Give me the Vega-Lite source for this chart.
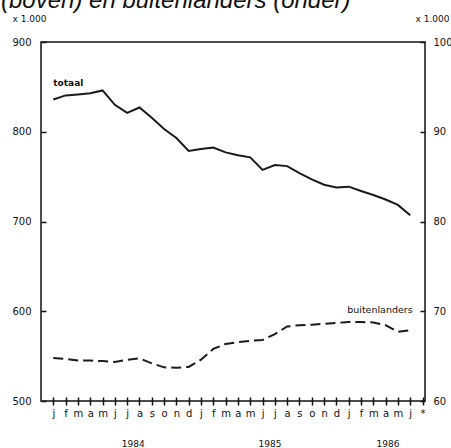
{
  "$schema": "https://vega.github.io/schema/vega-lite/v6.json",
  "width": 384,
  "height": 359,
  "autosize": {"type": "none"},
  "padding": {"left": 41, "top": 42, "right": 26, "bottom": 47},
  "background": "white",
  "config": {
    "view": {"stroke": "#111", "strokeWidth": 1.5},
    "font": "DejaVu Sans",
    "axis": {
      "grid": false, "domain": false, "tickColor": "#111", "tickWidth": 1.5,
      "labelColor": "#111", "labelFont": "DejaVu Sans", "labelFontSize": 10, "labelFlush": false,
      "titleFont": "DejaVu Sans", "titleFontSize": 9, "titleFontWeight": "normal", "titleColor": "#111"
    }
  },
  "title": {
    "text": "(boven) en buitenlanders (onder)",
    "anchor": "start", "frame": "group", "baseline": "alphabetic",
    "offset": 0, "dx": -40, "dy": 18,
    "font": "Liberation Sans", "fontSize": 24, "fontStyle": "italic", "fontWeight": "normal", "color": "#111"
  },
  "datasets": {
    "reeks": [
      {"maand": 0, "totaal": 836, "buitenlanders": 64.8},
      {"maand": 1, "totaal": 840.5, "buitenlanders": 64.7},
      {"maand": 2, "totaal": 841.5, "buitenlanders": 64.5},
      {"maand": 3, "totaal": 842.8, "buitenlanders": 64.5},
      {"maand": 4, "totaal": 846, "buitenlanders": 64.45},
      {"maand": 5, "totaal": 830, "buitenlanders": 64.35},
      {"maand": 6, "totaal": 821, "buitenlanders": 64.6},
      {"maand": 7, "totaal": 827, "buitenlanders": 64.75},
      {"maand": 8, "totaal": 815.5, "buitenlanders": 64.2},
      {"maand": 9, "totaal": 803, "buitenlanders": 63.75},
      {"maand": 10, "totaal": 793, "buitenlanders": 63.7},
      {"maand": 11, "totaal": 778.5, "buitenlanders": 63.8},
      {"maand": 12, "totaal": 780.8, "buitenlanders": 64.6},
      {"maand": 13, "totaal": 782.5, "buitenlanders": 65.8},
      {"maand": 14, "totaal": 777, "buitenlanders": 66.35},
      {"maand": 15, "totaal": 773.8, "buitenlanders": 66.55},
      {"maand": 16, "totaal": 771.5, "buitenlanders": 66.7},
      {"maand": 17, "totaal": 757.5, "buitenlanders": 66.8},
      {"maand": 18, "totaal": 763, "buitenlanders": 67.45},
      {"maand": 19, "totaal": 761.7, "buitenlanders": 68.3},
      {"maand": 20, "totaal": 754, "buitenlanders": 68.45},
      {"maand": 21, "totaal": 747, "buitenlanders": 68.5},
      {"maand": 22, "totaal": 741, "buitenlanders": 68.6},
      {"maand": 23, "totaal": 738, "buitenlanders": 68.7},
      {"maand": 24, "totaal": 738.8, "buitenlanders": 68.8},
      {"maand": 25, "totaal": 734, "buitenlanders": 68.8},
      {"maand": 26, "totaal": 729.5, "buitenlanders": 68.75},
      {"maand": 27, "totaal": 724.5, "buitenlanders": 68.45},
      {"maand": 28, "totaal": 718.5, "buitenlanders": 67.7},
      {"maand": 29, "totaal": 707, "buitenlanders": 67.9}
    ],
    "jaren": [
      {"maand": 6.5, "jaar": "1984"},
      {"maand": 17.6, "jaar": "1985"},
      {"maand": 27.2, "jaar": "1986"}
    ],
    "links": [{"maand": 0, "waarde": 854, "naam": "totaal"}],
    "rechts": [{"maand": 29.2, "waarde": 70.1, "naam": "buitenlanders"}]
  },
  "encoding": {
    "x": {
      "field": "maand", "type": "quantitative",
      "scale": {"domain": [-1, 30.2], "nice": false, "zero": false},
      "axis": {
        "title": null, "values": [0,1,2,3,4,5,6,7,8,9,10,11,12,13,14,15,16,17,18,19,20,21,22,23,24,25,26,27,28,29,30],
        "labelExpr": "['j','f','m','a','m','j','j','a','s','o','n','d','j','f','m','a','m','j','j','a','s','o','n','d','j','f','m','a','m','j','*'][datum.value]",
        "offset": -4, "tickSize": 8, "labelPadding": 3, "labelOverlap": false, "labelBound": false
      }
    }
  },
  "layer": [
    {
      "layer": [
        {
          "data": {"name": "reeks"},
          "mark": {"type": "line", "color": "#1a1a1a", "strokeWidth": 2},
          "encoding": {
            "y": {
              "field": "totaal", "type": "quantitative",
              "scale": {"domain": [500, 900], "nice": false, "zero": false},
              "axis": {
                "orient": "left", "values": [500, 600, 700, 800, 900],
                "offset": -5, "tickSize": 5, "labelPadding": 10,
                "title": "x 1.000", "titleAngle": 0, "titleAlign": "left", "titleBaseline": "middle",
                "titleX": -34, "titleY": -24
              }
            }
          }
        },
        {
          "data": {"name": "links"},
          "mark": {"type": "text", "align": "left", "baseline": "middle", "fontSize": 9, "fontWeight": "bold", "color": "#111"},
          "encoding": {
            "y": {"field": "waarde", "type": "quantitative"},
            "text": {"field": "naam"}
          }
        },
        {
          "data": {"name": "jaren"},
          "mark": {"type": "text", "align": "center", "baseline": "middle", "fontSize": 9, "color": "#111"},
          "encoding": {
            "y": {"datum": 452, "type": "quantitative"},
            "text": {"field": "jaar"}
          }
        }
      ]
    },
    {
      "layer": [
        {
          "data": {"name": "reeks"},
          "mark": {"type": "line", "color": "#1a1a1a", "strokeWidth": 2, "strokeDash": [10, 5]},
          "encoding": {
            "y": {
              "field": "buitenlanders", "type": "quantitative",
              "scale": {"domain": [60, 100], "nice": false, "zero": false},
              "axis": {
                "orient": "right", "values": [60, 70, 80, 90, 100],
                "offset": -5, "tickSize": 5, "labelPadding": 8,
                "title": "x 1.000", "titleAngle": 0, "titleAlign": "left", "titleBaseline": "middle",
                "titleX": -5, "titleY": -24
              }
            }
          }
        },
        {
          "data": {"name": "rechts"},
          "mark": {"type": "text", "align": "right", "baseline": "middle", "fontSize": 9.5, "color": "#111"},
          "encoding": {
            "y": {"field": "waarde", "type": "quantitative"},
            "text": {"field": "naam"}
          }
        }
      ]
    }
  ],
  "resolve": {"scale": {"y": "independent"}, "axis": {"y": "independent"}}
}
